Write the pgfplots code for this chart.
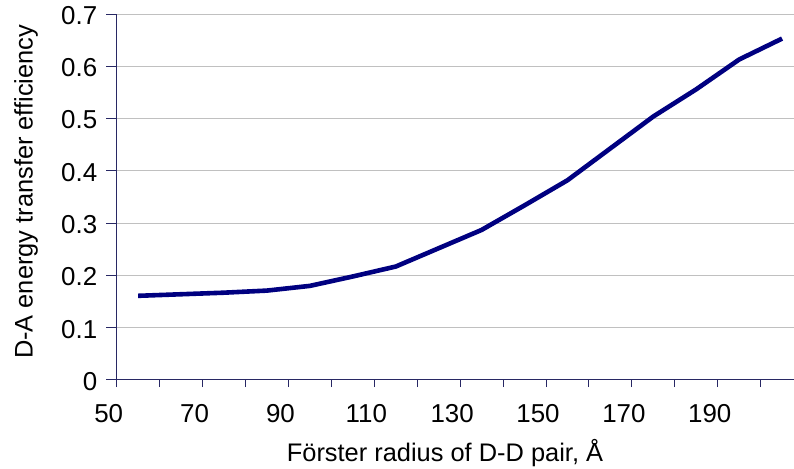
\documentclass[border=0pt]{standalone}
\usepackage{pgfplots}
\pgfplotsset{compat=1.18}
\usepackage{fontspec}
\setmainfont{Liberation Sans}
\definecolor{navyline}{RGB}{0,0,128}
\definecolor{axiscol}{RGB}{40,40,100}
\definecolor{gridcol}{RGB}{192,192,192}
\begin{document}
\begin{tikzpicture}
\path[use as bounding box] (0,0) rectangle (794bp,469bp);
\begin{axis}[
  at={(116.7bp,89bp)}, anchor=south west,
  scale only axis, width=677.3bp, height=366bp,
  xmin=50, xmax=207.77, ymin=0, ymax=0.7,
  axis x line*=bottom, axis y line*=left,
  x axis line style={-, axiscol, line width=1bp},
  y axis line style={-, axiscol, line width=1bp},
  tick align=outside,
  xtick={50,60,...,200},
  xticklabels={50,,70,,90,,110,,130,,150,,170,,190,},
  ytick={0,0.1,...,0.7},
  yticklabels={0,0.1,0.2,0.3,0.4,0.5,0.6,0.7},
  xtick style={axiscol, line width=1bp, /pgfplots/major tick length=7bp},
  ytick style={axiscol, line width=1bp, /pgfplots/major tick length=10.5bp},
  tick label style={font=\fontsize{26}{30}\selectfont, text=black},
  xticklabel style={inner sep=0pt, xshift=-8bp, yshift=-20bp},
  yticklabel style={inner sep=0pt, xshift=-15bp, yshift=-1.5bp},
  ymajorgrids, grid style={gridcol, line width=1bp},
  xlabel={Förster radius of D-D pair, Å},
  ylabel={D-A energy transfer efficiency},
  label style={font=\fontsize{25.5}{30}\selectfont, text=black, inner sep=0pt},
  xlabel style={at={(axis description cs:0.4847,-0.2232)}, anchor=base},
  ylabel style={at={(axis description cs:-0.124,0.514)}, anchor=base},
  clip=false,
]
\addplot[navyline, line width=4.6bp, line join=round] coordinates {
(55,0.161) (65,0.164) (75,0.167) (85,0.171) (95,0.180) (105,0.198)
(115,0.217) (125,0.252) (135,0.287) (145,0.334) (155,0.382) (165,0.443)
(175,0.504) (185,0.556) (195,0.613) (205,0.653)
};
\end{axis}
\end{tikzpicture}
\end{document}
